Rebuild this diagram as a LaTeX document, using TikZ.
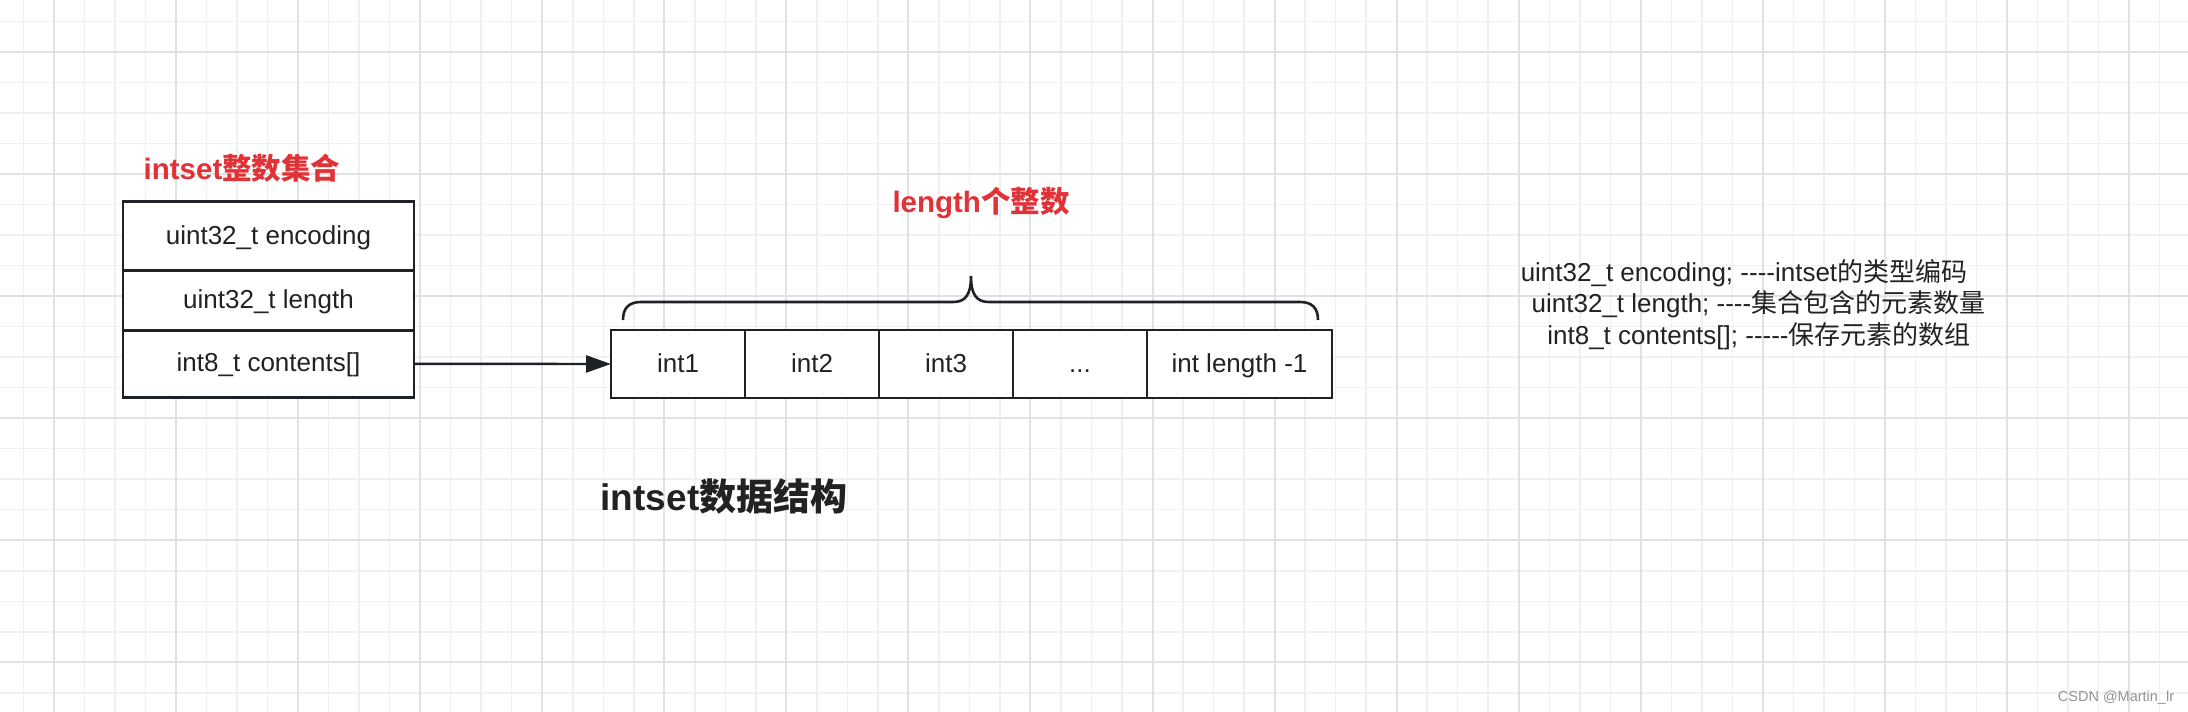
\documentclass[tikz,border=0pt]{standalone}
\usepackage{fontspec}
\setmainfont{Liberation Sans}
\newfontfamily\cjk{Noto Sans CJK SC}
\usetikzlibrary{positioning,arrows.meta}
\definecolor{linedark}{RGB}{30,33,38}
\definecolor{textdark}{RGB}{34,34,34}
\definecolor{titlered}{RGB}{225,50,55}
\definecolor{gridminor}{RGB}{240,240,240}
\definecolor{gridmajor}{RGB}{225,225,225}
\newcommand{\zh}[1]{{\cjk #1}}

\begin{document}
\begin{tikzpicture}[x=1pt, y=-1pt,
    cell/.style={draw=linedark, line width=2.9pt, fill=white, inner sep=0pt, outer sep=0pt,
      minimum width=134pt, minimum height=68pt, text height=20pt, text depth=4pt,
      text=textdark, font=\fontsize{26}{30}\selectfont},
    row/.style={cell, minimum width=291pt},
    title/.style={text=titlered, font=\bfseries\fontsize{29.5}{34}\selectfont},
    note/.style={anchor=base, text=textdark, font=\fontsize{26}{30}\selectfont},
    arr/.style={draw=linedark, line width=2.4pt, -{Triangle[length=25pt,width=17pt]}}]
    \path[use as bounding box, fill=white] (0,0) rectangle (2188,712);
    % grid
    \foreach \k in {-1,...,69}{
        \draw[gridminor, line width=1.5pt](54+30.515*\k,0)--(54+30.515*\k,712);
    }
    \foreach \k in {-1,...,21}{
        \draw[gridminor, line width=1.5pt](0,52+30.515*\k)--(2188,52+30.515*\k);
    }
    \foreach \k in {0,...,17}{
        \draw[gridmajor, line width=2pt](54+122.06*\k,0)--(54+122.06*\k,712);
    }
    \foreach \k in {0,...,5}{
        \draw[gridmajor, line width=2pt](0,52+122.06*\k)--(2188,52+122.06*\k);
    }
    % intset struct
    \node[title] (settitle) at (242,168) {intset\zh{整数集合}};
    \node[row, minimum height=68.3pt] (enc) at (268.5,236) {uint32\_t encoding};
    \node[row, minimum height=60pt, below=0pt of enc] (len) {uint32\_t length};
    \node[row, minimum height=67.3pt, below=0pt of len] (cont) {int8\_t contents[]};
    % contents array
    \node[cell] (c1) at (678,364) {int1};
    \node[cell, right=0pt of c1] (c2) {int2};
    \node[cell, right=0pt of c2] (c3) {int3};
    \node[cell, right=0pt of c3] (c4) {...};
    \node[cell, minimum width=185pt, right=0pt of c4] (c5) {int length -1};
    \draw[arr](cont.east)--(c1.west);
    \draw[linedark, line width=2.6pt](623,320) .. controls (623,308) and (629,302) .. (641,302)
        --(953,302) .. controls (966,302) and (971,294) .. (971,276)
        .. controls (971,294) and (976,302) .. (989,302)
        --(1300,302) .. controls (1312,302) and (1318,308) .. (1318,320);
    \node[title] (lentitle) at (981,203) {length\zh{个整数}};
    \node[text=textdark, font=\bfseries\fontsize{37}{42}\selectfont] (maintitle) at (724,496) {intset\zh{数据结构}};
    % notes
    \node[note] (note1) at (1744,281.5) {uint32\_t encoding; -{}-{}-{}-intset\zh{的类型编码}};
    \node[note] (note2) at (1758.5,312.8) {uint32\_t length; -{}-{}-{}-\zh{集合包含的元素数量}};
    \node[note] (note3) at (1759,344) {int8\_t contents[]; -{}-{}-{}-{}-\zh{保存元素的数组}};
    \node[anchor=base, text=black!42, font=\fontsize{14.5}{17}\selectfont] (mark) at (2116,701.7) {CSDN @Martin\_lr};
\end{tikzpicture}
\end{document}
